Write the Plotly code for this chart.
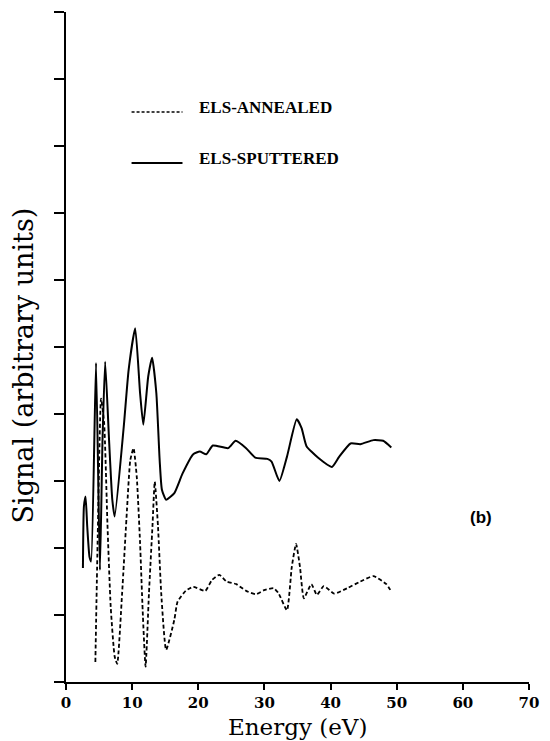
import plotly.graph_objects as go

# Sputtered (solid) curve
sput_e = [2.56, 2.71, 2.96, 3.21, 3.55, 3.80, 4.54, 5.13, 5.52, 5.92, 6.51, 7.00, 7.36,
          8.73, 9.47, 10.46, 11.20, 11.69, 12.43, 13.02, 13.66, 14.16, 14.50, 15.14,
          16.38, 17.61, 19.24, 20.23, 21.21, 22.20, 24.52, 25.65, 27.23, 28.61, 30.44,
          31.08, 32.26, 33.40, 34.88, 35.62, 36.36, 38.08, 40.21, 41.29, 43.02, 44.50,
          46.47, 47.95, 49.18]
sput_v = [1.70, 2.62, 2.77, 2.32, 1.87, 1.80, 4.76, 1.67, 3.61, 4.78, 3.61, 2.72, 2.47,
          3.81, 4.66, 5.28, 4.31, 3.84, 4.56, 4.84, 4.31, 3.31, 2.87, 2.72,
          2.82, 3.11, 3.40, 3.44, 3.40, 3.53, 3.49, 3.60, 3.49, 3.35, 3.33,
          3.29, 3.00, 3.36, 3.92, 3.79, 3.52, 3.35, 3.21, 3.36, 3.56, 3.55,
          3.61, 3.60, 3.50]

# Annealed (dashed) curve
ann_e = [4.44, 4.80, 5.30, 5.77, 6.26, 6.76, 7.36, 7.74, 8.48, 9.22, 9.72, 10.21, 10.70,
         11.20, 11.59, 12.03, 12.54, 13.07, 13.42, 13.91, 14.40, 15.14, 16.38, 16.87,
         18.10, 19.24, 21.06, 22.05, 23.19, 24.27, 25.75, 27.23, 28.71, 29.94, 31.42,
         32.16, 33.40, 34.14, 34.78, 35.37, 35.96, 37.10, 37.93, 38.97, 40.55, 42.52,
         44.50, 46.47, 48.44, 49.18]
ann_v = [0.30, 2.20, 4.23, 3.86, 2.37, 1.12, 0.38, 0.27, 1.32, 2.57, 3.31, 3.49, 3.06,
         2.07, 1.07, 0.23, 1.32, 2.32, 2.99, 2.32, 1.32, 0.48, 0.93, 1.20,
         1.36, 1.42, 1.36, 1.52, 1.60, 1.50, 1.46, 1.36, 1.31, 1.37, 1.40,
         1.32, 1.07, 1.72, 2.06, 1.72, 1.25, 1.46, 1.30, 1.43, 1.32, 1.40,
         1.50, 1.58, 1.46, 1.35]

x_ticks = [0, 10, 20, 30, 40, 50, 60, 70]
y_ticks = list(range(0, 11))
legend_labels = ["ELS-ANNEALED", "ELS-SPUTTERED"]
x_title = "Energy (eV)"
y_title = "Signal (arbitrary units)"
panel_label = "(b)"

fig = go.Figure()
fig.add_trace(go.Scatter(x=sput_e, y=sput_v, mode="lines", name=legend_labels[1],
                         line=dict(color="black", width=2, shape="spline", smoothing=0.5)))
fig.add_trace(go.Scatter(x=ann_e, y=ann_v, mode="lines", name=legend_labels[0],
                         line=dict(color="black", width=1.8, dash="4px,2.5px",
                                   shape="spline", smoothing=0.5)))

serif = "DejaVu Serif"
fig.update_layout(
    width=550, height=741,
    margin=dict(l=66, r=11, t=12, b=59),
    paper_bgcolor="white", plot_bgcolor="white",
    showlegend=False,
    xaxis=dict(range=[0, 70], tickvals=x_ticks, ticktext=[str(t) for t in x_ticks],
               ticks="outside", ticklen=6, tickwidth=2, tickcolor="black",
               showline=True, linecolor="black", linewidth=2,
               showgrid=False, zeroline=False,
               tickfont=dict(family=serif, size=15, color="black", weight="bold")),
    yaxis=dict(range=[0, 10], tickvals=y_ticks, showticklabels=False,
               ticks="outside", ticklen=10, tickwidth=2, tickcolor="black",
               showline=True, linecolor="black", linewidth=2,
               showgrid=False, zeroline=False),
)

# legend samples
fig.add_shape(type="line", xref="paper", yref="paper", x0=0.1416, x1=0.2516,
              y0=0.8507, y1=0.8507, line=dict(color="black", width=1.5, dash="3px,2px"))
fig.add_shape(type="line", xref="paper", yref="paper", x0=0.1416, x1=0.2516,
              y0=0.7746, y1=0.7746, line=dict(color="black", width=1.8))
leg_font = dict(family="Liberation Serif", size=17, color="black", weight="bold")
fig.add_annotation(xref="paper", yref="paper", x=0.2833, y=0.8575, text=legend_labels[0],
                   showarrow=False, xanchor="left", yanchor="middle", font=leg_font)
fig.add_annotation(xref="paper", yref="paper", x=0.2833, y=0.782, text=legend_labels[1],
                   showarrow=False, xanchor="left", yanchor="middle", font=leg_font)

# axis titles
fig.add_annotation(xref="paper", yref="paper", x=0.5, y=0, yshift=-45, text=x_title,
                   showarrow=False, xanchor="center", yanchor="middle",
                   font=dict(family=serif, size=23, color="black"))
fig.add_annotation(xref="paper", yref="paper", x=-0.092, y=0.473, text=y_title,
                   textangle=-90, showarrow=False, xanchor="center", yanchor="middle",
                   font=dict(family=serif, size=27, color="black"))
fig.add_annotation(xref="paper", yref="paper", x=0.8953, y=0.2455, text=panel_label,
                   showarrow=False, xanchor="center", yanchor="middle",
                   font=dict(family="Liberation Sans", size=17, color="black", weight="bold"))

fig.write_html("out.html", config={"displayModeBar": False},
               post_script="document.body.style.margin='0';document.body.style.padding='0';")
